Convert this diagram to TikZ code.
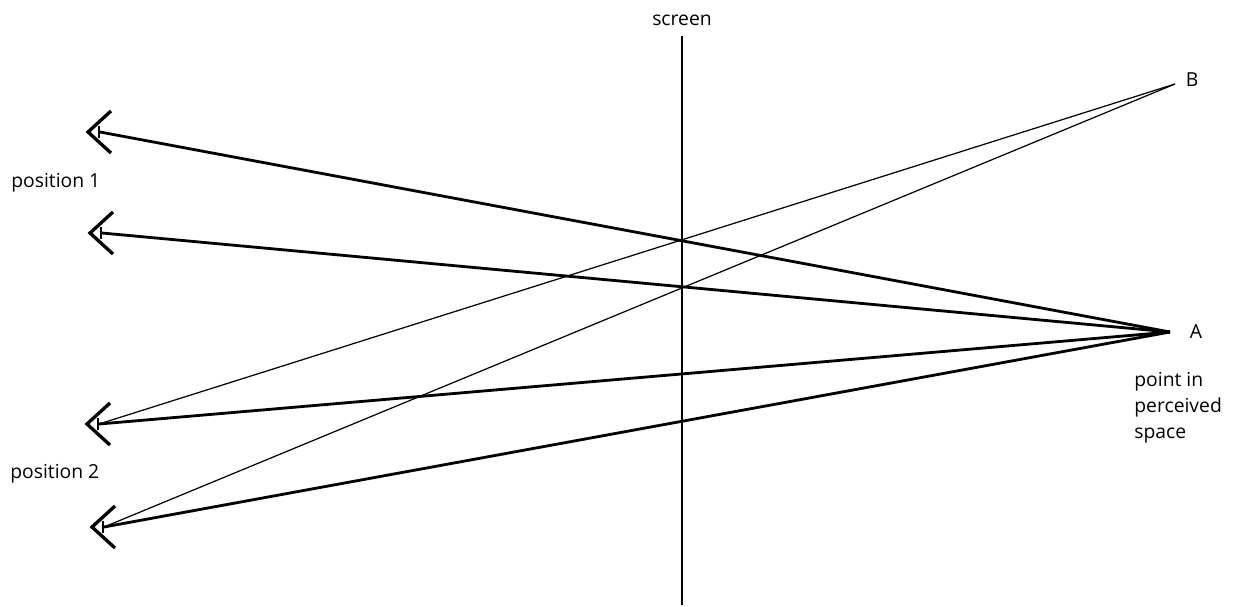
\documentclass[tikz,border=0pt]{standalone}
\usepackage{fontspec}
\setmainfont{Open Sans}[Ligatures=NoCommon]
\tikzset{
  eye/.style={line width=1.9pt, line join=miter},
  pupil/.style={line width=0.9pt},
  sightA/.style={line width=1.6pt},
  sightB/.style={line width=0.7pt},
  lbl/.style={font=\fontsize{11}{14.7}\selectfont, inner sep=0pt}
}
\begin{document}
\begin{tikzpicture}[x=0.02cm, y=-0.02cm]
\useasboundingbox (0,0) rectangle (1236,606);
% screen
\coordinate (scrtop) at (682,36);
\coordinate (scrbot) at (682,605);
\draw[line width=1.3pt] (scrtop) -- (scrbot);
\node[lbl] (screen) at (682,20) {screen};
% perceived points
\coordinate (A) at (1170,332);
\coordinate (B) at (1175,84);
\node[lbl] (Albl) at (1196,332) {A};
\node[lbl] (Blbl) at (1192,80) {B};
\node[lbl, anchor=north west, align=left] (point) at (1134,372) {point in\\perceived\\space};
% eyes
\foreach \n/\x/\y in {1/88/132, 2/90/233, 3/87/424, 4/92/527}{
    \draw[eye] (\x+23,\y-21) -- (\x,\y) -- (\x+23,\y+21);
    \draw[pupil] (\x+11,\y-6) -- (\x+11,\y+6);
    \coordinate (e\n) at (\x+12,\y);
}
\node[lbl, anchor=west] (pos1) at (11,183) {position 1};
\node[lbl, anchor=west] (pos2) at (10,474) {position 2};
% lines of sight
\foreach \n in {1,2,3,4}
    \draw[sightA] (e\n) -- (A);
\draw[sightB] (e3) -- (B);
\draw[sightB] (e4) -- (B);
\end{tikzpicture}
\end{document}
